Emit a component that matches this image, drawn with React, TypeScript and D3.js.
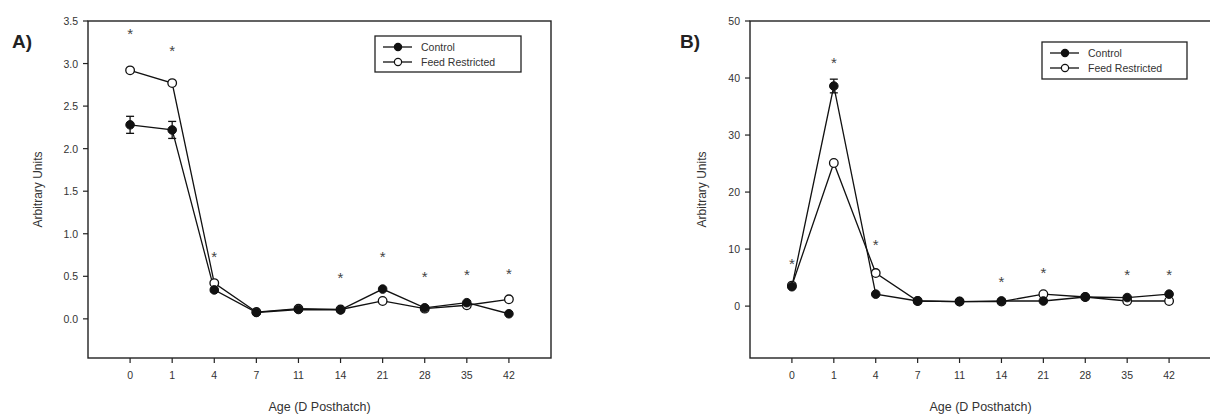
import React from "react";
import * as d3 from "d3";

const categories = ["0", "1", "4", "7", "11", "14", "21", "28", "35", "42"];

const aControl = [2.28, 2.22, 0.34, 0.075, 0.11, 0.105, 0.35, 0.13, 0.19, 0.06];
const aControlErr = [0.1, 0.1, 0.02, 0, 0, 0, 0, 0, 0, 0];
const aFeed = [2.92, 2.77, 0.42, 0.08, 0.12, 0.11, 0.21, 0.12, 0.16, 0.23];
const aStars: (number | null)[] = [3.37, 3.17, 0.75, null, null, 0.5, 0.75, 0.52, 0.54, 0.55];
const aTicks = [0, 0.5, 1, 1.5, 2, 2.5, 3, 3.5];

const bControl = [3.4, 38.6, 2.1, 0.9, 0.8, 0.9, 0.9, 1.6, 1.5, 2.1];
const bControlErr = [0.3, 1.2, 0, 0, 0, 0, 0, 0, 0, 0];
const bFeed = [3.6, 25.1, 5.8, 0.9, 0.8, 0.8, 2.1, 1.6, 0.9, 0.9];
const bStars: (number | null)[] = [7.7, 43, 11, null, null, 4.6, 6.1, null, 5.8, 5.8];
const bTicks = [0, 10, 20, 30, 40, 50];

const legendLabels = ["Control", "Feed Restricted"];
const FONT = "'Liberation Sans', Arial, sans-serif";
const TEXT = "#333";

type PanelProps = {
  tag: string;
  left: number;
  right: number;
  yDomain: [number, number];
  yTicks: number[];
  fmt: (v: number) => string;
  control: number[];
  controlErr: number[];
  feed: number[];
  stars: (number | null)[];
  legend: { x: number; y: number; w: number; h: number };
  yTitleX: number;
  tagX: number;
};

const TOP = 21;
const BOTTOM = 358;

function Panel(p: PanelProps) {
  const x = d3.scaleLinear().domain([-1, 10]).range([p.left, p.right]);
  const y = d3.scaleLinear().domain(p.yDomain).range([BOTTOM, TOP]);
  const line = d3
    .line<number>()
    .x((_, i) => x(i))
    .y((d) => y(d));
  const midY = (TOP + BOTTOM) / 2;
  const midX = (p.left + p.right) / 2;
  return (
    <g>
      <text x={p.tagX} y={48} fontFamily={FONT} fontWeight="bold" fontSize={19} fill="#222">
        {p.tag}
      </text>
      <rect x={p.left} y={TOP} width={p.right - p.left} height={BOTTOM - TOP} fill="none" stroke="#222" strokeWidth={1.4} />
      {p.yTicks.map((t) => (
        <g key={"y" + t}>
          <line x1={p.left - 5} x2={p.left} y1={y(t)} y2={y(t)} stroke="#222" strokeWidth={1.2} />
          <text x={p.left - 10} y={y(t) + 4} textAnchor="end" fontFamily={FONT} fontSize={10.5} fill={TEXT}>
            {p.fmt(t)}
          </text>
        </g>
      ))}
      {categories.map((c, i) => (
        <g key={"x" + c}>
          <line x1={x(i)} x2={x(i)} y1={BOTTOM} y2={BOTTOM + 5} stroke="#222" strokeWidth={1.2} />
          <text x={x(i)} y={BOTTOM + 21} textAnchor="middle" fontFamily={FONT} fontSize={10.5} fill={TEXT}>
            {c}
          </text>
        </g>
      ))}
      <text x={midX} y={BOTTOM + 53} textAnchor="middle" fontFamily={FONT} fontSize={12.5} fill={TEXT}>
        Age (D Posthatch)
      </text>
      <text
        transform={`translate(${p.yTitleX},${midY}) rotate(-90)`}
        textAnchor="middle"
        fontFamily={FONT}
        fontSize={12}
        fill={TEXT}
      >
        Arbitrary Units
      </text>
      <path d={line(p.control) || ""} fill="none" stroke="#111" strokeWidth={1.3} />
      <path d={line(p.feed) || ""} fill="none" stroke="#111" strokeWidth={1.3} />
      {p.control.map((v, i) =>
        p.controlErr[i] > 0 ? (
          <g key={"e" + i} stroke="#111" strokeWidth={1.3}>
            <line x1={x(i)} x2={x(i)} y1={y(v - p.controlErr[i])} y2={y(v + p.controlErr[i])} />
            <line x1={x(i) - 4} x2={x(i) + 4} y1={y(v - p.controlErr[i])} y2={y(v - p.controlErr[i])} />
            <line x1={x(i) - 4} x2={x(i) + 4} y1={y(v + p.controlErr[i])} y2={y(v + p.controlErr[i])} />
          </g>
        ) : null
      )}
      {p.feed.map((v, i) => (
        <circle key={"f" + i} cx={x(i)} cy={y(v)} r={4.3} fill="#fff" stroke="#111" strokeWidth={1.3} />
      ))}
      {p.control.map((v, i) => (
        <circle key={"c" + i} cx={x(i)} cy={y(v)} r={4.3} fill="#111" stroke="#111" strokeWidth={1} />
      ))}
      {p.stars.map((v, i) =>
        v === null ? null : (
          <text key={"s" + i} x={x(i)} y={y(v) + 7} textAnchor="middle" fontFamily={FONT} fontSize={15} fill="#444">
            *
          </text>
        )
      )}
      <g>
        <rect x={p.legend.x} y={p.legend.y} width={p.legend.w} height={p.legend.h} fill="#fff" stroke="#222" strokeWidth={1.3} />
        {legendLabels.map((lab, k) => {
          const ly = p.legend.y + 11 + k * 15;
          return (
            <g key={lab}>
              <line x1={p.legend.x + 8} x2={p.legend.x + 37} y1={ly} y2={ly} stroke="#111" strokeWidth={1.3} />
              <circle
                cx={p.legend.x + 23}
                cy={ly}
                r={3.6}
                fill={k === 0 ? "#111" : "#fff"}
                stroke="#111"
                strokeWidth={1.2}
              />
              <text x={p.legend.x + 46} y={ly + 4} fontFamily={FONT} fontSize={10.5} fill={TEXT}>
                {lab}
              </text>
            </g>
          );
        })}
      </g>
    </g>
  );
}

export default function App() {
  return (
    <svg
      width={1210}
      height={414}
      style={{ position: "absolute", left: 0, top: 0, background: "#fff" }}
    >
      <rect x={0} y={0} width={1210} height={414} fill="#fff" />
      <Panel
        tag="A)"
        left={88}
        right={551}
        yDomain={[-0.46, 3.5]}
        yTicks={aTicks}
        fmt={d3.format(".1f")}
        control={aControl}
        controlErr={aControlErr}
        feed={aFeed}
        stars={aStars}
        legend={{ x: 375, y: 36, w: 146, h: 36 }}
        yTitleX={42}
        tagX={12}
      />
      <Panel
        tag="B)"
        left={750}
        right={1211}
        yDomain={[-9.1, 50]}
        yTicks={bTicks}
        fmt={d3.format("d")}
        control={bControl}
        controlErr={bControlErr}
        feed={bFeed}
        stars={bStars}
        legend={{ x: 1042, y: 42, w: 145, h: 37 }}
        yTitleX={706}
        tagX={680}
      />
    </svg>
  );
}
